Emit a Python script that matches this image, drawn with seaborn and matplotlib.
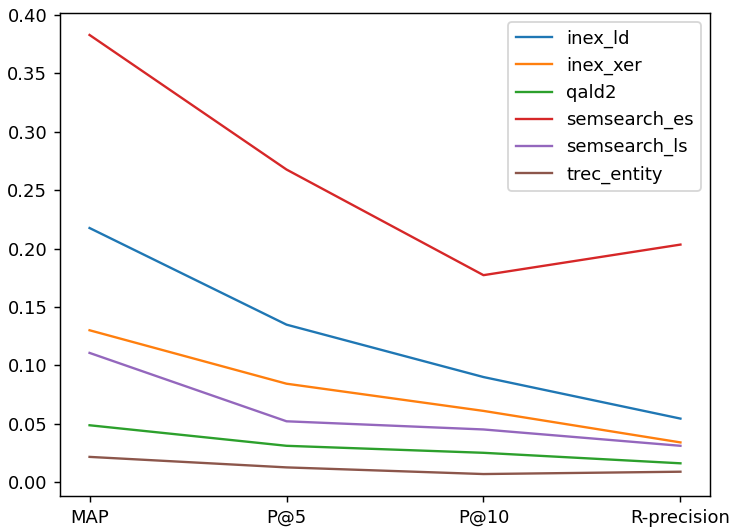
import matplotlib
matplotlib.use("Agg")
import matplotlib.pyplot as plt
import seaborn as sns
import pandas as pd

metrics = ["MAP", "P@5", "P@10", "R-precision"]
inex_ld = [0.2176, 0.1348, 0.0899, 0.0543]
inex_xer = [0.1300, 0.0842, 0.0609, 0.0339]
qald2 = [0.0486, 0.0310, 0.0250, 0.0160]
semsearch_es = [0.3830, 0.2677, 0.1772, 0.2034]
semsearch_ls = [0.1106, 0.0520, 0.0450, 0.0310]
trec_entity = [0.0215, 0.0125, 0.0068, 0.0088]

series = {
    "inex_ld": inex_ld,
    "inex_xer": inex_xer,
    "qald2": qald2,
    "semsearch_es": semsearch_es,
    "semsearch_ls": semsearch_ls,
    "trec_entity": trec_entity,
}

rows = []
for name, vals in series.items():
    for m, v in zip(metrics, vals):
        rows.append({"metric": m, "value": v, "dataset": name})
df = pd.DataFrame(rows)

DPI = 130
fig = plt.figure(figsize=(729 / DPI, 530 / DPI), dpi=DPI)
ax = fig.add_axes([60 / 729, 1 - 496 / 530, 650 / 729, 483 / 530])
sns.lineplot(data=df, x="metric", y="value", hue="dataset", sort=False,
             palette="tab10", ax=ax, linewidth=1.3)
ax.set_xlabel("")
ax.set_ylabel("")
ax.set_yticks([0.0, 0.05, 0.10, 0.15, 0.20, 0.25, 0.30, 0.35, 0.40])
ax.set_yticklabels([f"{t:.2f}" for t in ax.get_yticks()])
ax.legend(title=None, loc="upper right")
fig.savefig("out.png", dpi=DPI)
